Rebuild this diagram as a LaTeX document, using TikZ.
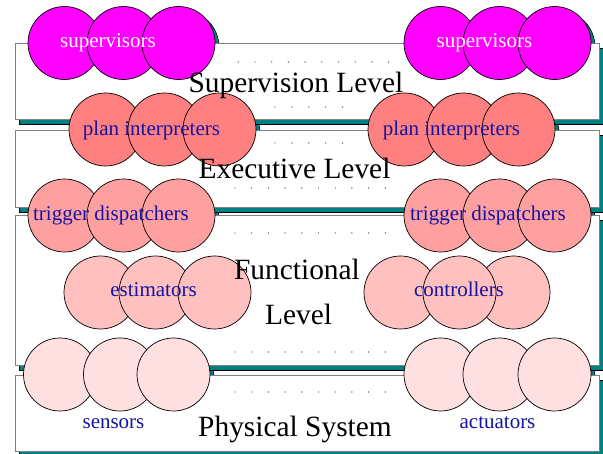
\documentclass[tikz,border=0pt]{standalone}
\usepackage{fontspec}
\setmainfont{Liberation Serif}
\definecolor{shadowteal}{RGB}{0,128,128}
\definecolor{bandedge}{RGB}{128,128,128}
\definecolor{labelblue}{RGB}{20,20,160}
\definecolor{cSup}{RGB}{255,0,255}
\definecolor{cPlan}{RGB}{255,128,128}
\definecolor{cTrig}{RGB}{255,160,160}
\definecolor{cFunc}{RGB}{255,192,192}
\definecolor{cPhys}{RGB}{255,224,224}
\begin{document}
\begin{tikzpicture}[x=1pt,y=-1pt,
  bub/.style={circle,draw=black,line width=0.7pt,minimum size=73pt,inner sep=0pt},
  bubshade/.style={fill=shadowteal,draw=black,line width=0.6pt},
  bandbox/.style={fill=white,draw=bandedge,line width=0.9pt},
  bandshade/.style={fill=shadowteal,draw=black,line width=0.6pt},
  dotmark/.style={fill=black!70},
  lvl/.style={font=\fontsize{29.4}{35}\selectfont,inner sep=0pt,anchor=base},
  bublabel/.style={font=\fontsize{21}{25}\selectfont,inner sep=0pt,anchor=base,text=labelblue},
  whitelabel/.style={bublabel,text=white}]
\useasboundingbox (0,0) rectangle (603,454);

% drop shadows of the circle groups
\foreach \cx/\cy in {64.5/43,123.5/43,178.5/43,440.5/43,499.5/43,554.5/43,
  105.5/129.5,164.5/129.5,219.5/129.5,404.5/129.5,463.5/129.5,518.5/129.5,
  64.5/215.5,123.5/215.5,178.5/215.5,440.5/215.5,499.5/215.5,554.5/215.5,
  100.5/292.5,155.5/292.5,214.5/292.5,400.5/292.5,459.5/292.5,513.5/292.5,
  60/374.5,120/374.5,173.5/374.5,440.5/374.5,499.5/374.5,554.5/374.5}
  \draw[bubshade] (\cx+4,\cy+4) circle[radius=36.5pt];

% level bands with their shadows
\foreach \ytop/\ybot in {43/119,130/207,215/365,375/451}{
  \draw[bandshade] (19,\ytop+5) rectangle (603,\ybot+5);
  \draw[bandbox] (15,\ytop) rectangle (599,\ybot);
}

% dotted guide rows
\foreach \i in {0,...,9} \fill[dotmark] (238.3+\i*16.7,62) circle[radius=0.7pt];
\foreach \i in {0,...,4} \fill[dotmark] (275+\i*16.9,107) circle[radius=0.7pt];
\foreach \i in {0,...,4} \fill[dotmark] (275+\i*16.9,143) circle[radius=0.7pt];
\foreach \yy in {188,233,352,392}
  \foreach \i in {0,...,9} \fill[dotmark] (235+\i*16.7,\yy) circle[radius=0.7pt];

% supervision level
\node[bub,fill=cSup] (supL1) at (64.5,43) {};
\node[bub,fill=cSup] (supL2) at (123.5,43) {};
\node[bub,fill=cSup] (supL3) at (178.5,43) {};
\node[whitelabel] (supLt) at (108,48) {supervisors};
\node[bub,fill=cSup] (supR1) at (440.5,43) {};
\node[bub,fill=cSup] (supR2) at (499.5,43) {};
\node[bub,fill=cSup] (supR3) at (554.5,43) {};
\node[whitelabel] (supRt) at (484.5,48) {supervisors};

% executive level
\node[bub,fill=cPlan] (planL1) at (105.5,129.5) {};
\node[bub,fill=cPlan] (planL2) at (164.5,129.5) {};
\node[bub,fill=cPlan] (planL3) at (219.5,129.5) {};
\node[bublabel] (planLt) at (151.5,136) {plan interpreters};
\node[bub,fill=cPlan] (planR1) at (404.5,129.5) {};
\node[bub,fill=cPlan] (planR2) at (463.5,129.5) {};
\node[bub,fill=cPlan] (planR3) at (518.5,129.5) {};
\node[bublabel] (planRt) at (451.5,136) {plan interpreters};

\node[bub,fill=cTrig] (trigL1) at (64.5,215.5) {};
\node[bub,fill=cTrig] (trigL2) at (123.5,215.5) {};
\node[bub,fill=cTrig] (trigL3) at (178.5,215.5) {};
\node[bublabel] (trigLt) at (111,221) {trigger dispatchers};
\node[bub,fill=cTrig] (trigR1) at (440.5,215.5) {};
\node[bub,fill=cTrig] (trigR2) at (499.5,215.5) {};
\node[bub,fill=cTrig] (trigR3) at (554.5,215.5) {};
\node[bublabel] (trigRt) at (488,221) {trigger dispatchers};

% functional level
\node[bub,fill=cFunc] (estL1) at (100.5,292.5) {};
\node[bub,fill=cFunc] (estL2) at (155.5,292.5) {};
\node[bub,fill=cFunc] (estL3) at (214.5,292.5) {};
\node[bublabel] (estLt) at (153.5,297) {estimators};
\node[bub,fill=cFunc] (ctrlR1) at (400.5,292.5) {};
\node[bub,fill=cFunc] (ctrlR3) at (513.5,292.5) {};
\node[bub,fill=cFunc] (ctrlR2) at (459.5,292.5) {};
\node[bublabel] (ctrlRt) at (459,297) {controllers};

% physical system
\node[bub,fill=cPhys] (sensL1) at (60,374.5) {};
\node[bub,fill=cPhys] (sensL2) at (120,374.5) {};
\node[bub,fill=cPhys] (sensL3) at (173.5,374.5) {};
\node[bublabel] (sensLt) at (113.5,429) {sensors};
\node[bub,fill=cPhys] (actR1) at (440.5,374.5) {};
\node[bub,fill=cPhys] (actR2) at (499.5,374.5) {};
\node[bub,fill=cPhys] (actR3) at (554.5,374.5) {};
\node[bublabel] (actRt) at (497.5,429) {actuators};

% level titles
\node[lvl] (supTitle) at (296,93) {Supervision Level};
\node[lvl] (exeTitle) at (294.5,179) {Executive Level};
\node[lvl] (funTitleA) at (297,280) {Functional};
\node[lvl] (funTitleB) at (298.5,325) {Level};
\node[lvl] (phyTitle) at (295,437) {Physical System};
\end{tikzpicture}
\end{document}
